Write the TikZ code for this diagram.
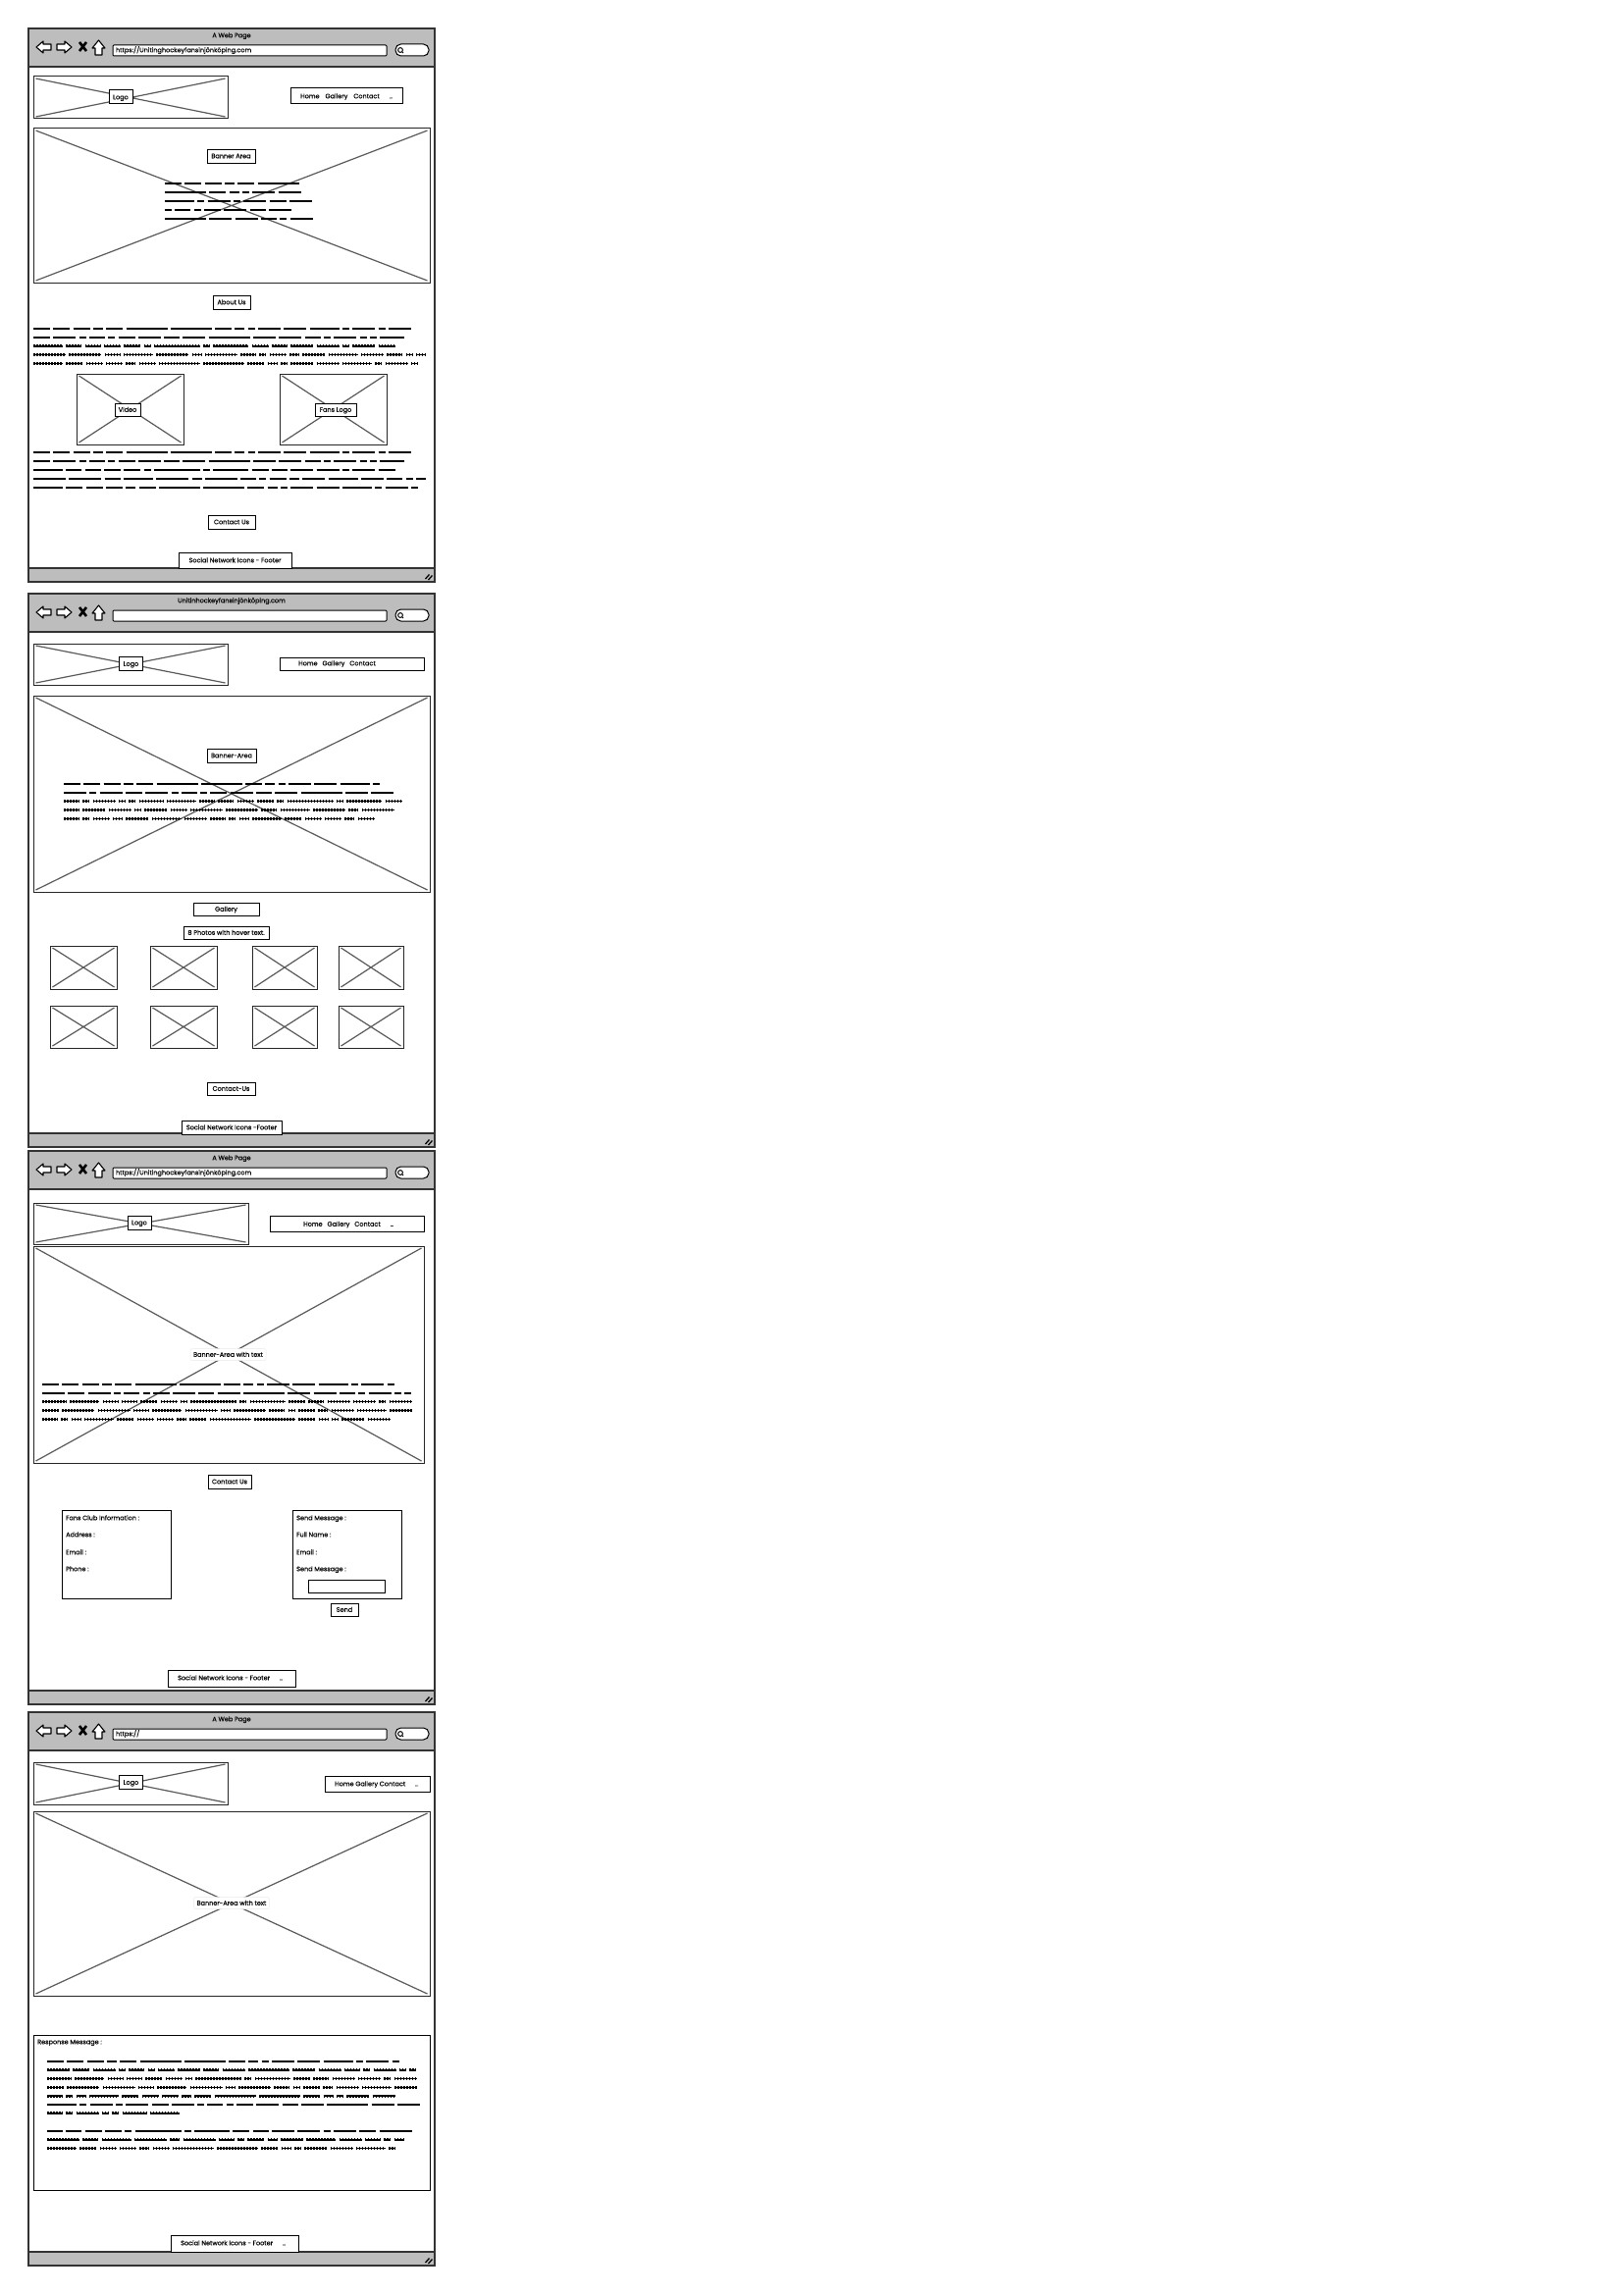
\documentclass[tikz,border=0pt]{standalone}
\usepackage{fontspec}
\setmainfont{Poppins}[FakeBold=0.12]
\usetikzlibrary{fit,shadows}
\definecolor{barfill}{HTML}{BDBDBD}
\definecolor{inkline}{HTML}{333333}
\definecolor{crossink}{HTML}{5A5A5A}
\newdimen\redx
\newdimen\redy
\newcount\redn
\def\wordbase{17,17,17,10,17,42,42,17,10,7,23,23,30,7,23,7,23,17,23,7,16,7,17,23,16,23,42,23,23,16,7,23,7,7,25,30,16,16,17,17,7,47,7,36,17,16,23,23,7,23,17,33,33,16,30,33,10,33,16,7,17,10,23,30,23,16,7,10,30}
\edef\wordstream{\wordbase,\wordbase,\wordbase}
\newcommand{\navdots}{{\fontsize{5}{6}\selectfont ...}}
\newcommand{\redact}[6]{%
  \global\redx=0pt \global\redy=0pt \global\redn=0
  \foreach \w in \wordstream {%
    \global\advance\redn by 1
    \ifnum\redn>#5 \ifnum\redn<\numexpr#5+#6+1\relax
      \ifdim\dimexpr\redx+\w pt\relax>#4pt
        \global\redx=0pt \global\advance\redy by #3pt
      \fi
      \draw[redline] ([xshift=\redx,yshift=-\redy]#1) -- ++(\w,0);
      \global\advance\redx by \dimexpr\w pt+3.3pt\relax
    \fi \fi
  }%
}
\newcommand{\imgph}[3]{\node[imgbox,fit={(#2) (#3)}] (#1) {};}
\newcommand{\browserwin}[4]{%
  \begin{scope}[shift={(0,#2)}]
    \node[winframe,fit={(29,29) (443,593)}] (win#1) {};
    \node[barbox,fit={(29,29) (443,68)}] (tool#1) {};
    \node[barbox,fit={(29,579) (443,593)}] (foot#1) {};
    \node[pagetext] (title#1) at (236,36) {#3};
    \node[urlbox] (url#1) at (254.5,51.5) {#4};
    \node[searchbox] (search#1) at (420,51) {};
    \draw[iconline] (37,48) -- (44,42) -- (44,45) -- (52,45) -- (52,51) -- (44,51) -- (44,54) -- cycle;
    \draw[iconline] (73,48) -- (66,42) -- (66,45) -- (58,45) -- (58,51) -- (66,51) -- (66,54) -- cycle;
    \draw[black,line width=2.6pt] (81,43) -- (88,52) (88,43) -- (81,52);
    \draw[iconline] (100.5,41) -- (107,49) -- (104,49) -- (104,56) -- (97,56) -- (97,49) -- (94,49) -- cycle;
    \draw[black,line width=1pt] (408,51) circle (2.4) (409.5,52.5) -- (411,54);
    \draw[black,line width=1.3pt] (433.5,590) -- (437.5,585.5) (436.5,591) -- (440.5,586.5);
  \end{scope}
}
\begin{document}
\begin{tikzpicture}[
  x=1pt,y=-1pt,
  font=\fontsize{6.5}{8}\selectfont,
  winframe/.style={draw=inkline,line width=1.4pt,fill=white,inner sep=0pt},
  barbox/.style={draw=inkline,line width=1.2pt,fill=barfill,inner sep=0pt},
  urlbox/.style={draw=black,line width=1pt,fill=white,rounded corners=1pt,minimum height=11pt,
    text width=273pt,inner xsep=3pt,inner ysep=0pt,align=left,text height=5pt,text depth=1.5pt},
  searchbox/.style={draw=black,line width=1pt,fill=white,rounded corners=5.5pt,
    minimum width=34pt,minimum height=12pt,inner sep=0pt},
  iconline/.style={draw=black,line width=1.1pt,fill=white,line join=round},
  imgbox/.style={draw=black!85,line width=1pt,fill=white,inner sep=0pt,
    path picture={\draw[crossink,line width=1.2pt]
      ([shift={(2.5pt,-2pt)}]path picture bounding box.north west) --
      ([shift={(-2.5pt,2pt)}]path picture bounding box.south east)
      ([shift={(2.5pt,2pt)}]path picture bounding box.south west) --
      ([shift={(-2.5pt,-2pt)}]path picture bounding box.north east);}},
  lblbox/.style={draw=black,line width=1pt,fill=white,inner sep=0pt,text height=5pt,text depth=.5pt},
  softbox/.style={draw=black!8,line width=.5pt,fill=white,rounded corners=2pt,inner sep=0pt,
    text height=5pt,text depth=.5pt},
  btnbox/.style={lblbox,general shadow={fill=black,shadow xshift=1.4pt,shadow yshift=-1.4pt}},
  panel/.style={draw=black,line width=1pt,fill=white,inner sep=0pt},
  pagetext/.style={inner sep=0pt,text height=5pt,text depth=.5pt},
  lefttext/.style={inner sep=0pt,anchor=west,text height=5pt,text depth=.5pt},
  redline/.style={black,line width=1.5pt,preaction={draw,line width=2.7pt,dash pattern=on 1.5pt off 1.5pt}}]
\browserwin{A}{0}{A Web Page}{https://Unitinghockeyfansinjönköping.com}
\browserwin{B}{576}{Unitinhockeyfansinjönköping.com}{}
\browserwin{C}{1144}{A Web Page}{https://Unitinghockeyfansinjönköping.com}
\browserwin{D}{1716}{A Web Page}{https://}
\imgph{logoA}{34,78}{232,121}
\node[lblbox,minimum width=24pt,minimum height=14pt] (logotxtA) at (123,99) {Logo};
\node[lblbox,minimum width=114pt,minimum height=16pt] (navA) at (353,98) {};
\node[lefttext] (navtxtA) at (306,98) {Home\hspace{6pt}Gallery\hspace{6pt}Contact\hspace{10pt}\navdots};
\imgph{bannerA}{34,131}{438,288}
\node[lblbox,minimum width=49pt,minimum height=14pt] (bannertxtA) at (235.5,159) {Banner Area};
\redact{168,187}{187}{9}{155}{0}{32}
\node[lblbox,minimum width=38pt,minimum height=14pt] (aboutA) at (236,308) {About Us};
\redact{34,335}{335}{8.9}{403}{0}{85}
\imgph{videoA}{78,381}{187,453}
\node[lblbox,minimum width=26pt,minimum height=13pt] (videotxtA) at (130,417.5) {Video};
\imgph{fansA}{285,381}{394,453}
\node[lblbox,minimum width=42pt,minimum height=13pt] (fanstxtA) at (342,417.5) {Fans Logo};
\redact{34,461}{461}{9}{403}{0}{85}
\node[btnbox,minimum width=48pt,minimum height=14pt] (contactA) at (236,532) {Contact Us};
\node[lblbox,minimum width=115pt,minimum height=16pt] (footerA) at (239.5,571) {Social Network Icons - Footer};
\imgph{logoB}{34,656}{232,698}
\node[lblbox,minimum width=24pt,minimum height=14pt] (logotxtB) at (133.5,676.5) {Logo};
\node[lblbox,minimum width=147pt,minimum height=13pt] (navB) at (358.5,676.5) {};
\node[lefttext] (navtxtB) at (304,676) {Home\hspace{5pt}Gallery\hspace{5pt}Contact};
\imgph{bannerB}{34,709}{438,909}
\node[lblbox,minimum width=50pt,minimum height=14pt] (bannertxtB) at (236,770) {Banner-Area};
\redact{65,799}{799}{8.85}{346}{0}{74}
\node[lblbox,minimum width=67pt,minimum height=13pt] (galleryB) at (230.5,926.5) {Gallery};
\node[lblbox,minimum width=87pt,minimum height=13pt] (photosB) at (230.5,950.5) {8 Photos with hover text.};
\imgph{photoa}{51,964}{119,1008}
\imgph{photob}{153,964}{221,1008}
\imgph{photoc}{257,964}{323,1008}
\imgph{photod}{345,964}{411,1008}
\imgph{photoe}{51,1025}{119,1068}
\imgph{photof}{153,1025}{221,1068}
\imgph{photog}{257,1025}{323,1068}
\imgph{photoh}{345,1025}{411,1068}
\node[btnbox,minimum width=49pt,minimum height=13pt] (contactB) at (235.5,1109.5) {Contact-Us};
\node[lblbox,minimum width=102pt,minimum height=14pt] (footerB) at (236,1149) {Social Network Icons -Footer};
\imgph{logoC}{34,1226}{253,1268}
\node[lblbox,minimum width=24pt,minimum height=14pt] (logotxtC) at (142,1246) {Logo};
\node[lblbox,minimum width=157pt,minimum height=16pt] (navC) at (353.5,1247.5) {};
\node[lefttext] (navtxtC) at (309,1247.5) {Home\hspace{5pt}Gallery\hspace{5pt}Contact\hspace{10pt}\navdots};
\imgph{bannerC}{34,1270}{432,1491}
\node[softbox,minimum width=77pt,minimum height=12pt] (bannertxtC) at (232.5,1380.5) {Banner-Area with text};
\redact{43,1411}{1411}{8.85}{381}{0}{81}
\node[lblbox,minimum width=44pt,minimum height=14pt] (contactC) at (234,1510) {Contact Us};
\node[panel,fit={(63,1539) (174,1629)}] (fansinfoC) {};
\node[lefttext] (infoa) at (67,1547) {Fans Club Information :};
\node[lefttext] (infob) at (67,1564) {Address :};
\node[lefttext] (infoc) at (67,1582) {Email :};
\node[lefttext] (infod) at (67,1599) {Phone :};
\node[panel,fit={(298,1539) (409,1629)}] (sendC) {};
\node[lefttext] (senda) at (302,1547) {Send Message :};
\node[lefttext] (sendb) at (302,1564) {Full Name :};
\node[lefttext] (sendc) at (302,1582) {Email :};
\node[lefttext] (sendd) at (302,1599) {Send Message :};
\node[lblbox,minimum width=78pt,minimum height=13pt] (inputC) at (353,1616.5) {};
\node[btnbox,minimum width=28pt,minimum height=13pt] (sendbtnC) at (351,1640.5) {Send};
\node[lblbox,minimum width=130pt,minimum height=17pt] (footerC) at (236,1710.5) {};
\node[lefttext] (footertxtC) at (181,1710) {Social Network Icons - Footer\hspace{10pt}\navdots};
\imgph{logoD}{34,1796}{232,1839}
\node[lblbox,minimum width=24pt,minimum height=14pt] (logotxtD) at (133.5,1816.5) {Logo};
\node[lblbox,minimum width=107pt,minimum height=16pt] (navD) at (384.5,1818) {};
\node[lefttext] (navtxtD) at (341,1818) {Home Gallery Contact\hspace{10pt}\navdots};
\imgph{bannerD}{34,1846}{438,2034}
\node[softbox,minimum width=77pt,minimum height=12pt] (bannertxtD) at (236,1939.5) {Banner-Area with text};
\node[panel,fit={(34,2074) (438,2232)}] (responseD) {};
\node[lefttext] (responsetxtD) at (38,2081) {Response Message :};
\redact{48,2101}{2101}{8.8}{381}{0}{105}
\redact{48,2172}{2172}{8.8}{381}{105}{47}
\node[lblbox,minimum width=130pt,minimum height=17pt] (footerD) at (239,2286.5) {};
\node[lefttext] (footertxtD) at (184,2286) {Social Network Icons - Footer\hspace{10pt}\navdots};
\useasboundingbox (0,0) rectangle (1654,2339);
\end{tikzpicture}
\end{document}
